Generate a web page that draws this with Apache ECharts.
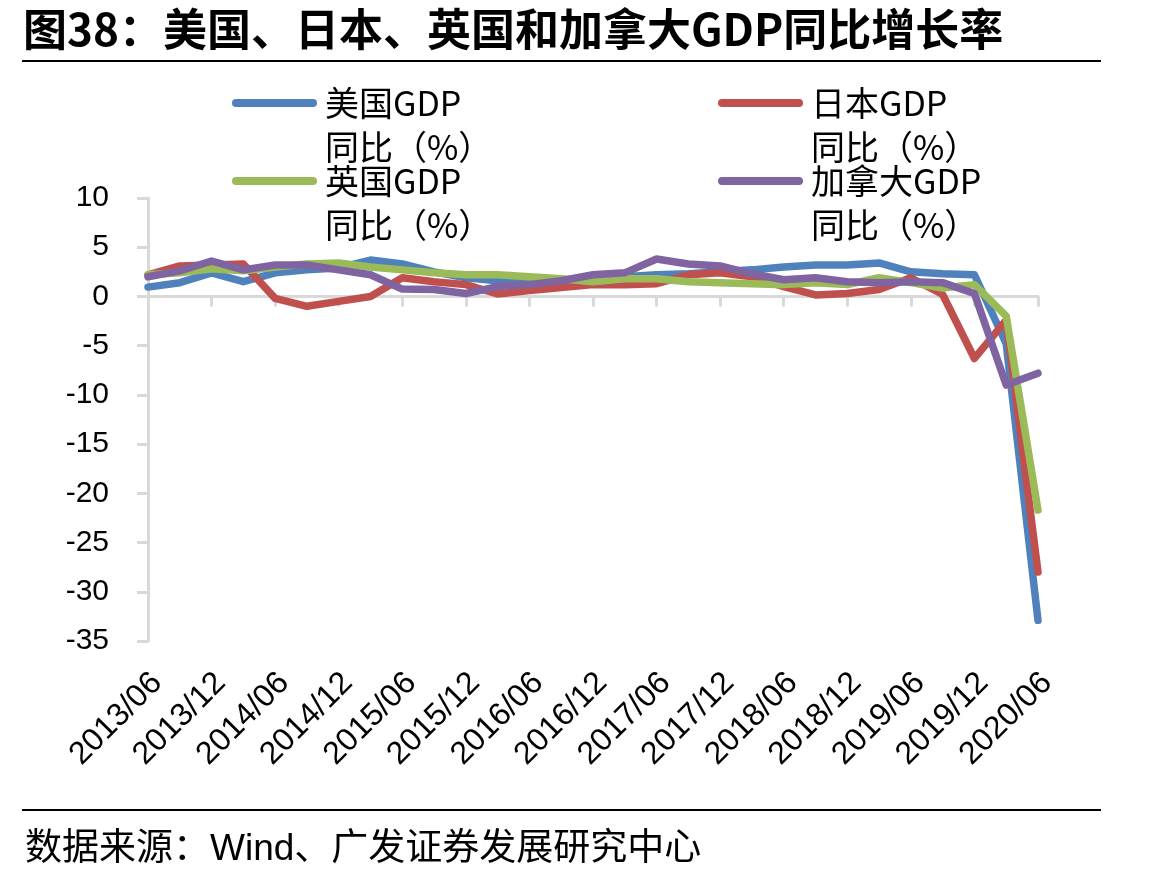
<!DOCTYPE html>
<html>
<head>
<meta charset="utf-8">
<script src="https://cdn.jsdelivr.net/npm/echarts@6/dist/echarts.min.js"></script>
<style>
  html, body { margin: 0; padding: 0; background: #fff; }
  #chart { width: 1154px; height: 879px; }
</style>
</head>
<body>
<div id="chart"></div>
<script>
// 季度日期
var categories = [
  "2013/06", "2013/09", "2013/12", "2014/03", "2014/06", "2014/09", "2014/12", "2015/03",
  "2015/06", "2015/09", "2015/12", "2016/03", "2016/06", "2016/09", "2016/12", "2017/03",
  "2017/06", "2017/09", "2017/12", "2018/03", "2018/06", "2018/09", "2018/12", "2019/03",
  "2019/06", "2019/09", "2019/12", "2020/03", "2020/06"
];
var usGdp = [0.95, 1.4, 2.4, 1.5, 2.4, 2.7, 2.9, 3.7, 3.3, 2.5, 1.9, 1.6, 1.4, 1.6, 1.9, 2.0,
  2.2, 2.3, 2.5, 2.7, 3.0, 3.2, 3.2, 3.4, 2.5, 2.3, 2.2, -4.8, -32.9];
var jpGdp = [2.2, 3.1, 3.2, 3.3, -0.2, -1.0, -0.5, 0.0, 1.9, 1.5, 1.2, 0.25, 0.6, 0.9, 1.2, 1.2,
  1.3, 2.2, 2.4, 2.0, 1.0, 0.15, 0.3, 0.7, 1.9, 0.2, -6.3, -2.4, -28.0];
var ukGdp = [2.2, 2.4, 2.8, 2.6, 3.0, 3.3, 3.4, 3.0, 2.7, 2.4, 2.2, 2.2, 2.0, 1.8, 1.5, 1.8,
  1.8, 1.5, 1.4, 1.3, 1.2, 1.4, 1.2, 1.9, 1.4, 0.85, 1.2, -2.0, -21.7];
var caGdp = [2.0, 2.6, 3.6, 2.7, 3.2, 3.2, 2.7, 2.2, 0.75, 0.7, 0.3, 1.0, 1.2, 1.6, 2.2, 2.4,
  3.8, 3.3, 3.1, 2.3, 1.7, 1.9, 1.5, 1.4, 1.5, 1.4, 0.3, -9.0, -7.8];
var seriesNames = ["美国GDP同比（%）", "日本GDP同比（%）", "英国GDP同比（%）", "加拿大GDP同比（%）"];
var colors = ["#4F81BD", "#C0504D", "#9BBB59", "#8064A2"];
var yTicks = { min: -35, max: 10, interval: 5 };

var cjk = "'Noto Sans CJK SC', sans-serif";
var latin = "'Liberation Sans', Arial, 'Noto Sans CJK SC', sans-serif";

var chart = echarts.init(document.getElementById("chart"));

// 图例：每项单独定位，文字分两行，前面加空行让图标对齐第一行
var legendPos = [[232, 37], [718, 37], [232, 115], [718, 115]];
var legends = seriesNames.map(function (name, i) {
  return {
    data: [name],
    left: legendPos[i][0],
    top: legendPos[i][1],
    padding: 0,
    icon: "path://M4,0 H81 A4,4 0 0 1 81,8 H4 A4,4 0 0 1 4,0 Z",
    itemWidth: 85,
    itemHeight: 9,
    selectedMode: false,
    formatter: function (n) {
      return "\n" + n.replace("同比", "\n同比");
    },
    textStyle: {
      fontSize: 34,
      lineHeight: 44,
      color: "#000",
      fontFamily: cjk,
      padding: [0, 0, 0, 3]
    }
  };
});

var dataList = [usGdp, jpGdp, ukGdp, caGdp];
var seriesData = dataList.map(function (d, i) {
  return {
    name: seriesNames[i],
    type: "line",
    data: d,
    symbol: "none",
    xAxisIndex: 0,
    yAxisIndex: 0,
    lineStyle: { width: 7.5, color: colors[i], join: "round", cap: "round" },
    itemStyle: { color: colors[i] }
  };
});

var option = {
  animation: false,
  color: colors,
  title: [
    {
      text: "图38：美国、日本、英国和加拿大GDP同比增长率",
      left: 18,
      top: 2,
      textStyle: { fontSize: 44, fontWeight: "bold", color: "#000", fontFamily: cjk }
    },
    {
      text: "数据来源：Wind、广发证券发展研究中心",
      left: 20,
      top: 826,
      textStyle: { fontSize: 37, fontWeight: "normal", color: "#000", fontFamily: latin }
    }
  ],
  legend: legends,
  graphic: [
    { type: "line", shape: { x1: 22, y1: 61, x2: 1101, y2: 61 }, style: { stroke: "#000", lineWidth: 2 } },
    { type: "line", shape: { x1: 22, y1: 810, x2: 1101, y2: 810 }, style: { stroke: "#000", lineWidth: 2 } }
  ],
  // 第二个 grid 只用来放日期标签（相对数据点略向右偏）
  grid: [
    { left: 148, right: 116, top: 198, bottom: 238 },
    { left: 157, right: 107, top: 198, bottom: 238 }
  ],
  xAxis: [
    {
      type: "category",
      gridIndex: 0,
      data: categories,
      boundaryGap: false,
      axisLine: { onZero: true, lineStyle: { color: "#D9D9D9", width: 3 } },
      axisTick: { interval: 1, length: 10, lineStyle: { color: "#D9D9D9", width: 3 } },
      axisLabel: { show: false },
      splitLine: { show: false }
    },
    {
      type: "category",
      gridIndex: 1,
      data: categories,
      boundaryGap: false,
      position: "bottom",
      axisLine: { show: false, onZero: false },
      axisTick: { show: false },
      axisLabel: {
        interval: 1,
        rotate: 45,
        margin: 37,
        fontSize: 32,
        color: "#000",
        fontFamily: latin
      },
      splitLine: { show: false }
    }
  ],
  yAxis: [
    {
      type: "value",
      gridIndex: 0,
      min: yTicks.min,
      max: yTicks.max,
      interval: yTicks.interval,
      axisLine: { show: true, lineStyle: { color: "#D9D9D9", width: 3 } },
      axisTick: { show: true, length: 11, lineStyle: { color: "#D9D9D9", width: 3 } },
      axisLabel: { fontSize: 30, color: "#000", fontFamily: latin, margin: 39 },
      splitLine: { show: false }
    },
    {
      type: "value",
      gridIndex: 1,
      min: yTicks.min,
      max: yTicks.max,
      interval: yTicks.interval,
      show: false
    }
  ],
  series: seriesData
};

chart.setOption(option);
</script>
</body>
</html>
